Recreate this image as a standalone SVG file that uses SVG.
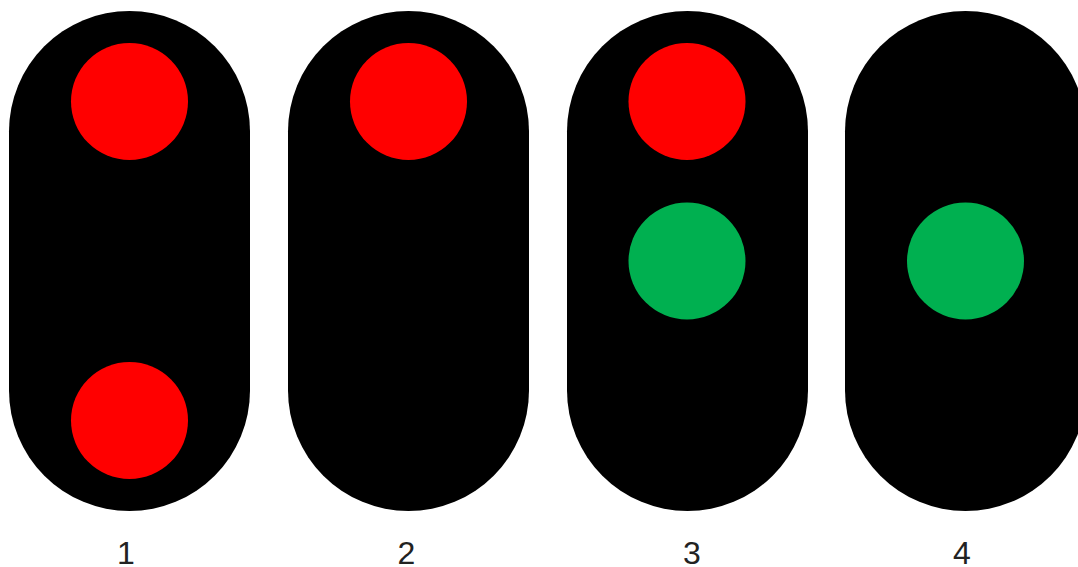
<svg xmlns="http://www.w3.org/2000/svg" width="1078" height="567" viewBox="0 0 1078 567">
<style>
.body{fill:#000}
.red{fill:#FF0000}
.green{fill:#00B050}
.lbl{font-family:"Liberation Sans",Arial,sans-serif;font-size:32px;fill:#222;text-anchor:middle}
</style>
<rect width="1078" height="567" fill="#fff"/>
<g id="signal1">
<rect class="body" x="9" y="11" width="241" height="500" rx="120.5" ry="120.5"/>
<circle class="red" cx="129.5" cy="101.5" r="58.5"/>
<circle class="red" cx="129.5" cy="420.5" r="58.5"/>
<text class="lbl" x="126" y="564">1</text>
</g>
<g id="signal2">
<rect class="body" x="288" y="11" width="241" height="500" rx="120.5" ry="120.5"/>
<circle class="red" cx="408.5" cy="101.5" r="58.5"/>
<text class="lbl" x="406.5" y="564">2</text>
</g>
<g id="signal3">
<rect class="body" x="567" y="11" width="241" height="500" rx="120.5" ry="120.5"/>
<circle class="red" cx="687" cy="101.5" r="58.5"/>
<circle class="green" cx="687" cy="261" r="58.5"/>
<text class="lbl" x="692" y="564">3</text>
</g>
<g id="signal4">
<rect class="body" x="845" y="11" width="241" height="500" rx="120.5" ry="120.5"/>
<circle class="green" cx="965.5" cy="261" r="58.5"/>
<text class="lbl" x="962" y="564">4</text>
</g>
<g id="connectors"></g>
</svg>
